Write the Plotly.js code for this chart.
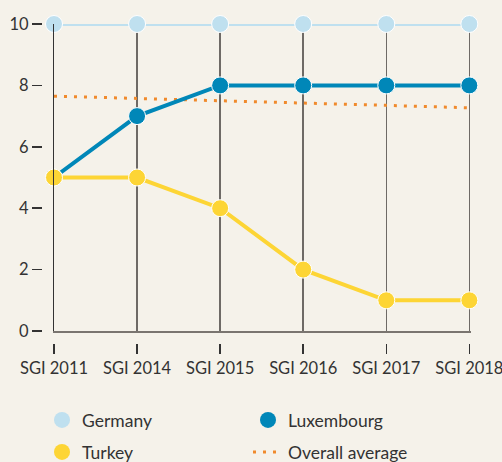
<!DOCTYPE html>
<html>
<head>
<meta charset="utf-8">
<script src="https://cdn.plot.ly/plotly-3.0.1.min.js"></script>
<style>html,body{margin:0;padding:0;background:#f5f2ea;}#chart{width:502px;height:462px;}</style>
</head>
<body>
<div id="chart"></div>
<script>
const categories = ["SGI 2011", "SGI 2014", "SGI 2015", "SGI 2016", "SGI 2017", "SGI 2018"];
const germany = [10, 10, 10, 10, 10, 10];
const luxembourg = [5, 7, 8, 8, 8, 8];
const turkey = [5, 5, 4, 2, 1, 1];
const overallAverage = [7.65, 7.58, 7.5, 7.43, 7.35, 7.27];
const yTicks = [0, 2, 4, 6, 8, 10];

const cGermany = "#bfe0ef", cLux = "#0087b8", cTurkey = "#fdd535", cAvg = "#f08a2c";
const txt = "#333333";

function series(name, y, color) {
  return {
    type: "scatter", mode: "lines+markers", name: name, x: categories, y: y,
    line: {color: color, width: 4}, marker: {color: color, size: 17, line: {color: "#ffffff", width: 1}},
    cliponaxis: false, showlegend: false, hoverinfo: "x+y+name"
  };
}
function legendOnly(name, color, legend) {
  return {type: "scatter", mode: "markers", name: name, x: [null], y: [null],
    marker: {color: color, size: 16}, legend: legend, showlegend: true, hoverinfo: "skip"};
}

const traces = [
  {type: "scatter", mode: "lines", name: "Overall average", x: categories, y: overallAverage,
   line: {color: cAvg, width: 3, dash: "3px,7px"}, cliponaxis: false, showlegend: false},
  series("Germany", germany, cGermany),
  series("Luxembourg", luxembourg, cLux),
  series("Turkey", turkey, cTurkey),
  legendOnly("Germany", cGermany, "legend"),
  legendOnly("Luxembourg", cLux, "legend"),
  legendOnly("Turkey", cTurkey, "legend2"),
  {type: "scatter", mode: "lines", name: "Overall average", x: [null], y: [null],
   line: {color: cAvg, width: 3, dash: "3px,7px"}, legend: "legend2", showlegend: true, hoverinfo: "skip"},
  {type: "scatter", mode: "lines", x: categories, y: categories.map(() => null),
   xaxis: "x2", yaxis: "y2", showlegend: false, hoverinfo: "skip"}
];

const H = 462, W = 502;
const mL = 42, mR = 31, mT = 24, mB = 119;
const plotW = W - mL - mR, plotH = H - mT - mB;
const xDomStart = 12 / plotW, yDomStart = 12 / plotH;
const axisFont = {family: "Lato, 'Open Sans', sans-serif", size: 16.5, color: txt};
const legendFont = {family: "Lato, 'Open Sans', sans-serif", size: 17.5, color: txt};

const layout = {
  width: W, height: H,
  margin: {l: mL, r: mR, t: mT, b: mB, pad: 0, autoexpand: false},
  paper_bgcolor: "#f5f2ea", plot_bgcolor: "#f5f2ea",
  font: axisFont,
  xaxis: {domain: [xDomStart, 1], range: [0, 5.02], type: "category", anchor: "y",
    showgrid: true, gridcolor: "#6e6a66", gridwidth: 1.5, showline: true, linecolor: "#7a7570", linewidth: 1.5,
    ticks: "", showticklabels: false, zeroline: false, fixedrange: true},
  yaxis: {domain: [yDomStart, 1], range: [0, 10], anchor: "x", showgrid: false, zeroline: false,
    showline: true, linecolor: "#333333", linewidth: 1.5, ticks: "", showticklabels: false, fixedrange: true},
  xaxis2: {overlaying: "x", anchor: "free", position: 0, type: "category", range: [0, 5.02],
    showgrid: false, zeroline: false, showline: false, ticks: "outside", ticklen: 10, tickwidth: 1.5,
    tickcolor: "#333333", tickfont: axisFont, fixedrange: true},
  yaxis2: {overlaying: "y", anchor: "free", position: 0, side: "left", range: [0, 10],
    tickvals: yTicks, ticktext: yTicks.map(String), showgrid: false, zeroline: false, showline: false,
    ticks: "outside", ticklen: 10, tickwidth: 1.5, tickcolor: "#333333", tickfont: axisFont, fixedrange: true},
  legend: {orientation: "h", x: 0, xanchor: "left", y: (mT + plotH - 420) / plotH, yanchor: "middle",
    entrywidth: 161, font: legendFont, bgcolor: "rgba(0,0,0,0)", traceorder: "normal"},
  legend2: {orientation: "h", x: 0, xanchor: "left", y: (mT + plotH - 452) / plotH, yanchor: "middle",
    entrywidth: 161, font: legendFont, bgcolor: "rgba(0,0,0,0)", traceorder: "normal"},
  showlegend: true
};

Plotly.newPlot("chart", traces, layout, {displayModeBar: false, staticPlot: true});
</script>
</body>
</html>
